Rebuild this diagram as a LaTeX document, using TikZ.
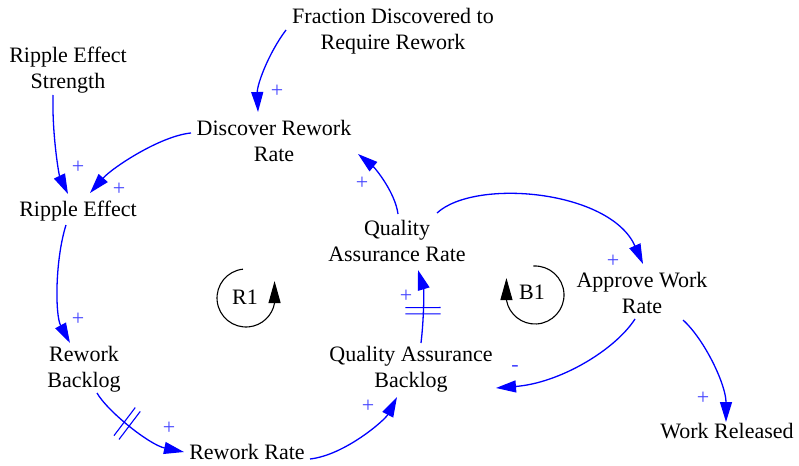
\documentclass[tikz,border=0pt]{standalone}
\usepackage{fontspec}
\setmainfont{Liberation Serif}
\usetikzlibrary{arrows.meta}
\definecolor{linkblue}{RGB}{0,0,255}
\definecolor{polblue}{RGB}{70,70,255}
\tikzset{
  var/.style={align=center, font=\fontsize{22}{26.5}\selectfont, inner sep=1pt},
  link/.style={draw=linkblue, line width=1.3pt, -{Triangle[length=20pt,width=12pt]}},
  pol/.style={text=polblue, font=\fontsize{22}{26}\selectfont, inner sep=0pt},
  delaymark/.style={sloped, minimum width=5pt, minimum height=34pt, inner sep=0pt, draw=none},
  delayline/.style={draw=linkblue, line width=1.1pt},
  loopsym/.style={draw=black, line width=1.1pt, -{Triangle[length=22pt,width=12pt]}},
  looplabel/.style={font=\fontsize{22}{26}\selectfont, inner sep=0pt},
}
\begin{document}
\begin{tikzpicture}[x=1pt,y=1pt]
\useasboundingbox (0,0) rectangle (799,-465);
% variables
\node[var] (frac) at (393,-31) {Fraction Discovered to\\Require Rework};
\node[var] (rstr) at (68,-70) {Ripple Effect\\Strength};
\node[var] (disc) at (274,-141) {Discover Rework\\Rate};
\node[var] (rip) at (78,-211) {Ripple Effect};
\node[var] (qar) at (397,-241) {Quality\\Assurance Rate};
\node[var] (awr) at (642,-293) {Approve Work\\Rate};
\node[var] (rb) at (84,-369) {Rework\\Backlog};
\node[var] (qab) at (411,-369) {Quality Assurance\\Backlog};
\node[var] (rr) at (247,-452) {Rework Rate};
\node[var] (wr) at (727,-431) {Work Released};
% links
\draw[link] ([shift={(-107,1)}]frac.center) .. controls (268,-54) and (257,-85) .. ([shift={(-16,29)}]disc.center);
\draw[link] ([shift={(-15,-25)}]rstr.center) .. controls (52,-135) and (59,-175) .. ([shift={(-10,17)}]rip.center);
\draw[link] ([shift={(-83,8)}]disc.center) .. controls (160,-136) and (112,-168) .. ([shift={(12,18)}]rip.center);
\draw[link] ([shift={(-12,-14)}]rip.center) .. controls (55,-260) and (55,-315) .. ([shift={(-14,26)}]rb.center);
\draw[link] ([shift={(13,-24)}]rb.center) .. controls (108,-412) and (150,-445) .. node[delaymark, pos=0.45] (d1) {} ([shift={(-63,0)}]rr.center);
\draw[link] ([shift={(63,-7)}]rr.center) .. controls (345,-455) and (385,-420) .. ([shift={(-14,-28)}]qab.center);
\draw[link] ([shift={(10,26)}]qab.center) .. controls (424,-318) and (424,-290) .. node[delaymark, pos=0.42] (d2) {} ([shift={(21,-29)}]qar.center);
\draw[link] ([shift={(1,27)}]qar.center) .. controls (395,-192) and (375,-168) .. ([shift={(84,-13)}]disc.center);
\draw[link] ([shift={(40,28)}]qar.center) .. controls (475,-178) and (610,-190) .. ([shift={(1,29)}]awr.center);
\draw[link] ([shift={(-7,-26)}]awr.center) .. controls (615,-350) and (560,-383) .. ([shift={(85,-19)}]qab.center);
\draw[link] ([shift={(41,-27)}]awr.center) .. controls (705,-340) and (726,-385) .. ([shift={(-1,9)}]wr.center);
% delay marks
\draw[delayline] (d1.north west) -- (d1.south west) (d1.north east) -- (d1.south east);
\draw[delayline] (d2.north west) -- (d2.south west) (d2.north east) -- (d2.south east);
% polarities
\node[pol] (p1) at (277,-91) {+};
\node[pol] (p2) at (78,-167) {+};
\node[pol] (p3) at (119,-189) {+};
\node[pol] (p4) at (78,-319) {+};
\node[pol] (p5) at (169,-428) {+};
\node[pol] (p6) at (368,-406) {+};
\node[pol] (p7) at (406,-296) {+};
\node[pol] (p8) at (362,-183) {+};
\node[pol] (p9) at (613,-261) {+};
\node[pol] (p10) at (515,-368) {-};
\node[pol] (p11) at (703,-398) {+};
% loops
\node[looplabel] (r1) at (245,-297) {R1};
\node[looplabel] (b1) at (532,-292) {B1};
\coordinate (r1c) at (246,-298);
\coordinate (b1c) at (535,-295);
\draw[loopsym] ([shift={(96:29)}]r1c) arc[start angle=96, end angle=350, radius=29] -- ++(0,22);
\draw[loopsym] ([shift={(93:29)}]b1c) arc[start angle=93, end angle=-170, radius=29] -- ++(0,22);
\end{tikzpicture}
\end{document}
